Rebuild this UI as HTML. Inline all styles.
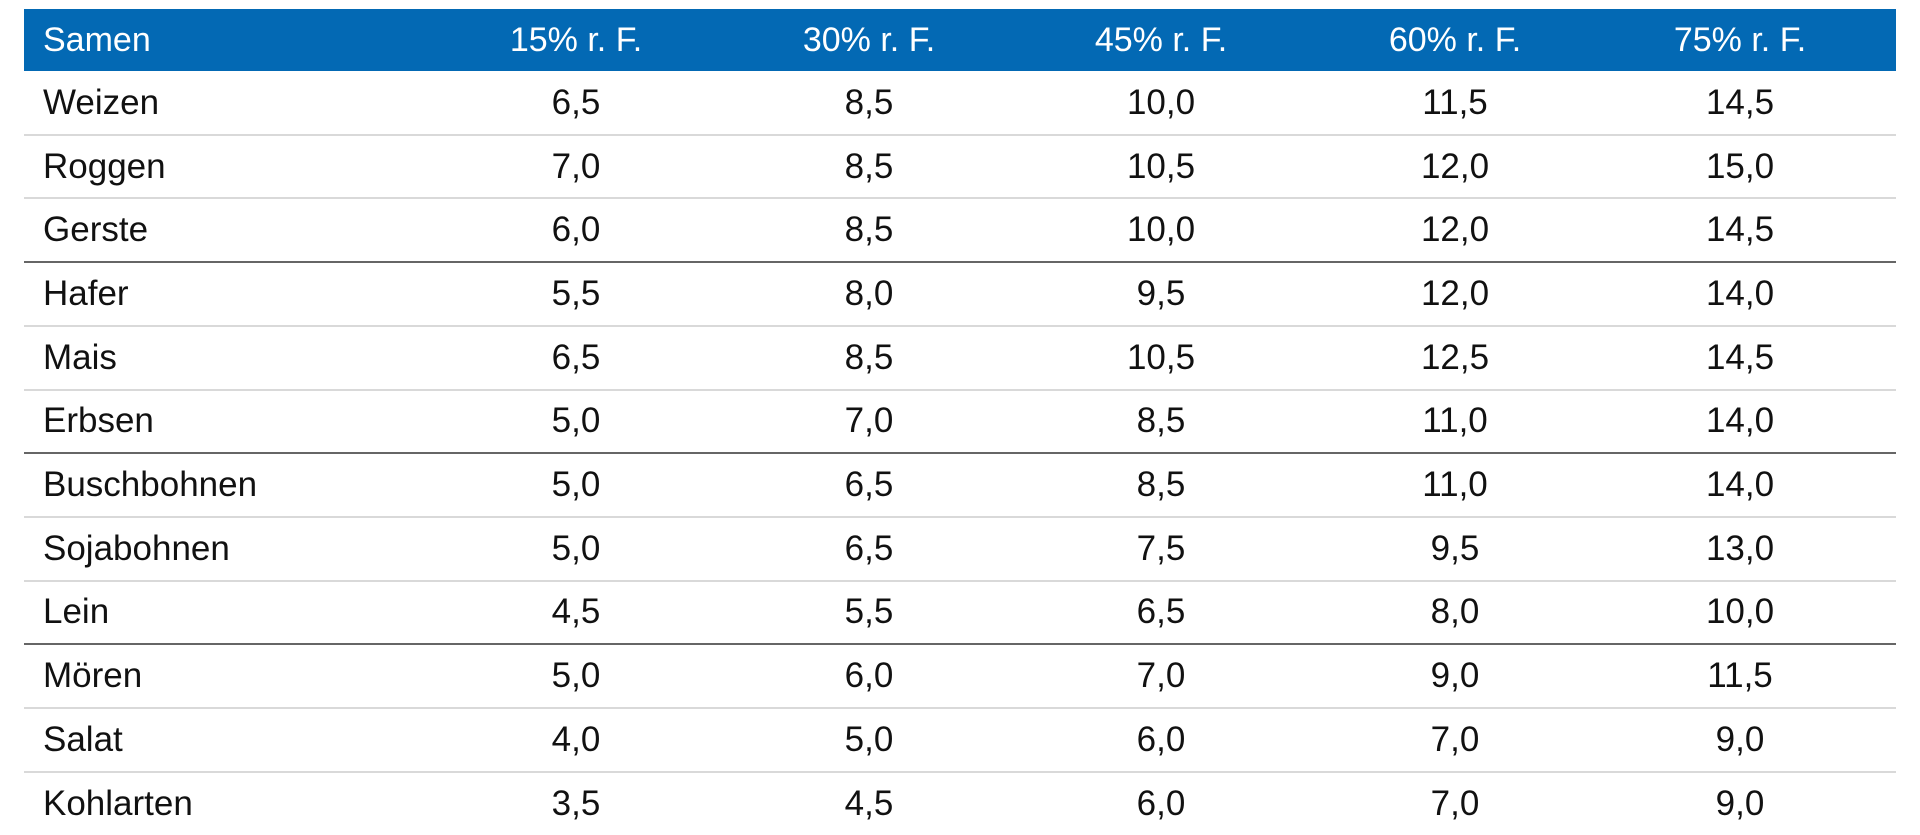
<!DOCTYPE html>
<html><head><meta charset="utf-8"><style>
body{margin:0;width:1920px;height:835px;background:#fff;overflow:hidden;font-family:"Liberation Sans",sans-serif;}
#t{position:absolute;left:0;top:0;width:1920px;height:835px;}
.hdr{position:absolute;left:24px;top:9px;width:1872px;height:62px;background:#0369b4;}
.c{position:absolute;font-size:35px;line-height:40px;height:40px;white-space:nowrap;}
.h{font-size:34px;}
.n{transform:translateX(-50%);}
.ln{position:absolute;left:24px;width:1872px;height:2px;}
</style></head><body>
<div id="t">
<div class="hdr"></div>
</div>
<script>
const columns=["15% r. F.","30% r. F.","45% r. F.","60% r. F.","75% r. F."];
const seeds=["Weizen","Roggen","Gerste","Hafer","Mais","Erbsen","Buschbohnen","Sojabohnen","Lein","Mören","Salat","Kohlarten"];
const v15=["6,5","7,0","6,0","5,5","6,5","5,0","5,0","5,0","4,5","5,0","4,0","3,5"];
const v30=["8,5","8,5","8,5","8,0","8,5","7,0","6,5","6,5","5,5","6,0","5,0","4,5"];
const v45=["10,0","10,5","10,0","9,5","10,5","8,5","8,5","7,5","6,5","7,0","6,0","6,0"];
const v60=["11,5","12,0","12,0","12,0","12,5","11,0","11,0","9,5","8,0","9,0","7,0","7,0"];
const v75=["14,5","15,0","14,5","14,0","14,5","14,0","14,0","13,0","10,0","11,5","9,0","9,0"];
const vals=[v15,v30,v45,v60,v75];
const t=document.getElementById('t');
const colX=[576,869,1161,1455,1740];
const top0=71,rh=63.7;
function mk(txt,x,y,cls,color){const d=document.createElement('div');d.className='c '+cls;d.textContent=txt;d.style.left=x+'px';d.style.top=(y-20)+'px';d.style.color=color;t.appendChild(d);return d;}
let h=mk("Samen",43,40,'h','#fff');


columns.forEach((c,i)=>{const d=mk(c,colX[i],40,'n h','#fff');

});
seeds.forEach((s,r)=>{
 const cy=top0+rh*r+rh/2;
 const d=mk(s,43,cy,'','#111');
 
 
 vals.forEach((arr,i)=>{const e=mk(arr[r],colX[i],cy,'n','#111');
 
 });
 if(r<seeds.length-1){const l=document.createElement('div');l.className='ln';
 l.style.top=Math.round(top0+rh*(r+1)-1)+'px';
 l.style.background=((r+1)%3===0)?'#666':'#d9d9d9';
 
 
 t.appendChild(l);}
});
</script>
</body></html>
